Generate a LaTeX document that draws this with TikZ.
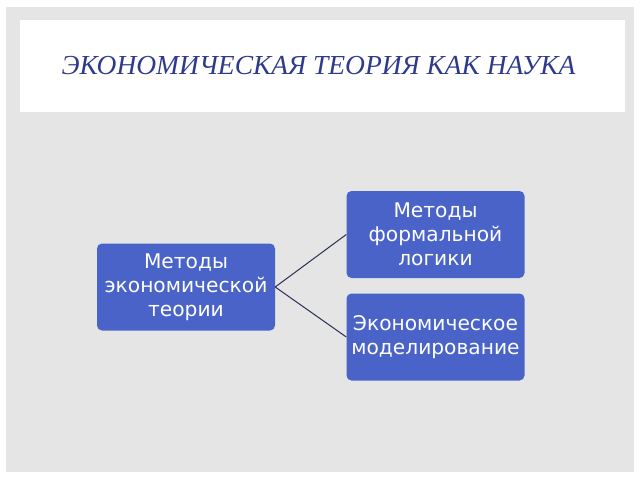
\documentclass[tikz,border=0pt]{standalone}
\usepackage{fontspec}
\setmainfont{Liberation Serif}
\setsansfont{DejaVu Sans}
\usetikzlibrary{positioning}
\definecolor{slGray}{RGB}{229,229,229}
\definecolor{slTitle}{RGB}{46,58,140}
\definecolor{slBlue}{RGB}{74,99,201}
\definecolor{slLine}{RGB}{40,46,90}
\tikzset{
    base/.style={font=\sffamily, align=center},
    method/.style={base, rectangle, rounded corners=5pt, fill=slBlue, text=white,
                   minimum width=178pt, minimum height=87pt, inner sep=1pt,
                   font=\sffamily\fontsize{20.2}{24}\selectfont},
    link/.style={color=slLine, line width=1pt}
}
\begin{document}
\begin{tikzpicture}[x=1pt, y=-1pt]
  % Slide background
  \useasboundingbox (0,0) rectangle (640,480);
  \fill[white] (0,0) rectangle (640,480);
  \fill[slGray] (6,7) rectangle (634,472);
  \fill[white] (20,20) rectangle (625,112);

  % Title
  \node[font=\fontsize{27.5}{30}\selectfont\itshape, text=slTitle] (title) at (318.5,66)
    {ЭКОНОМИЧЕСКАЯ ТЕОРИЯ КАК НАУКА};

  % Boxes
  \node[method] (theory) at (186,287) {Методы\\экономической\\теории};
  \node[method] (logic) at (435.5,234.5) {Методы\\формальной\\логики};
  \node[method] (model) at (435.5,337) {Экономическое\\моделирование};

  % Connectors
  \draw[link] (theory.east) -- (logic.west);
  \draw[link] (theory.east) -- (model.west);
\end{tikzpicture}
\end{document}
